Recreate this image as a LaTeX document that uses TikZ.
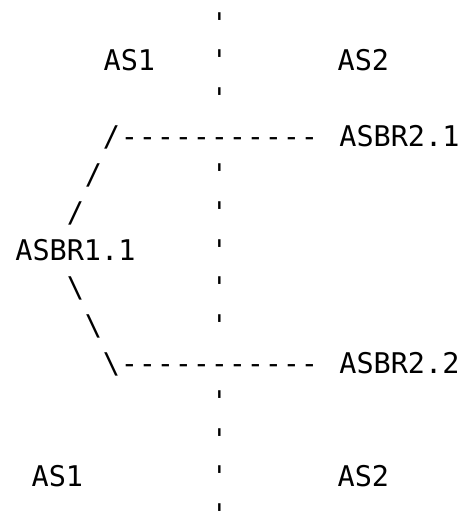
\documentclass[tikz,border=0pt]{standalone}
\usepackage{fontspec}
\setmonofont{DejaVu Sans Mono}
\begin{document}
\begin{tikzpicture}[x=18pt, y=-37.8pt, font=\ttfamily\fontsize{28.5}{30}\selectfont,
	every node/.style={inner sep=0pt, anchor=base}]
	\useasboundingbox (-0.689,-0.878) rectangle (25.033,12.693);
	\def\qc{11.5} % cot ranh gioi AS1 | AS2
	\foreach \r in {0,1,2,4,5,6,7,8,10,11,12,13} \node (q\r) at (\qc,\r) {'};
	% nhan
	\node (as1a) at (6.5,1) {AS1};
	\node (as2a) at (19.5,1) {AS2};
	\node (asbr21) at (21.5,3) {ASBR2.1};
	\node (asbr11) at (3.5,6) {ASBR1.1};
	\node (asbr22) at (21.5,9) {ASBR2.2};
	\node (as1b) at (2.5,12) {AS1};
	\node (as2b) at (19.5,12) {AS2};
	% nhanh
	\foreach \r/\c in {3/5,4/4,5/3} \node (s\r) at (\c+.5,\r) {/};
	\foreach \r/\c in {7/3,8/4,9/5} \node (b\r) at (\c+.5,\r) {\textbackslash};
	\foreach \r in {3,9} \foreach \c in {6,...,16} \node (d\r-\c) at (\c+.5,\r) {-};
\end{tikzpicture}
\end{document}
